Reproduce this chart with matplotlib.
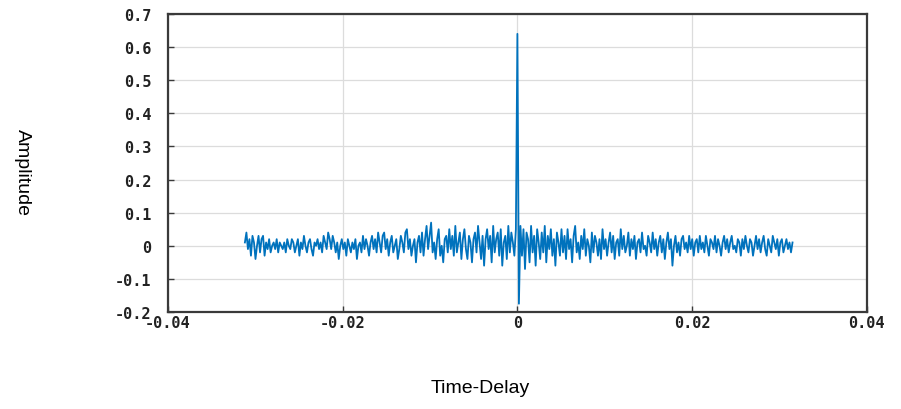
import numpy as np
import matplotlib.pyplot as plt

# cross-correlation values (in units of 0.01)
left_noise = [
    1, 4, -1, 2, -3, 3, 1, -4, 0, 3, -2, 2, 3, -3, 1, -1, 2, -2, 0, 1, -1, 2, -2, 1, 0, -1, 1, -2, 2, 0,
    -1, 2, 1, -2, 0, 2, -3, 1, -1, 3, 0, -2, 1, 2, -1, -3, 1, 0, 2, -1, 1, -2, 3, 1, -1, 4, 2, -1, 3, 1,
    -2, 1, -4, 0, 2, -1, 1, -3, 2, 0, -2, 1, -1, 2, -4, 0, 1, -2, 3, -1, 2, 0, -3, 1, 3, -1, 2, -2, 4, 1,
    -2, 3, 4, -1, 2, -3, 1, 3, -2, 0, 2, -4, -1, 3, 1, -2, 4, 5, -1, 2, -3, 0, 2, -5, 1, 3, -2, 4, -3, 2,
    6, -1, 3, 7, -2, 1, -4, 2, 5, -3, 0, -5, 2, 3, -2, 5, -1, 3, -3, 6, -2, 1, 4, -4, 2, 5, -1, -4, 3, 1,
    -5, 2, 4, -2, 6, 1, -4, 3, -6, 2, 5, -1, 3, -5, 6, -2, 2, 4, -3, 5, -6, 1, 3, -4, 6, -2, 4, 1, -3, 5,
]
peak = [64, -17.5]
right_noise = [
    6, -3, 5, -7, 4, 2, -5, 6, -2, 3, -6, 5, 1, -4, 4, -2, 6, -5, 3, -1, 5, -3, 2, -6, 4, 1, -3, 5, -2, 3,
    -4, 5, -1, 2, -5, 3, 6, -2, 1, -4, 3, -1, 5, -3, 2, 0, -5, 4, -2, 3, 1, -3, 2, -4, 5, -1, 2, -3, 1, 4,
    -2, 3, -4, 1, 2, -3, 5, -1, 3, -2, 0, 4, -3, 2, -1, 3, -4, 1, 2, -2, 4, -1, 0, -3, 3, 1, -2, 4, -1, 2,
    -3, 1, 3, -2, 2, -4, 1, 4, -1, 2, -6, 0, 3, -2, 1, -3, 2, 3, -1, 1, -2, 3, -1, 2, -3, 1, 2, -2, 3, -1,
    1, -2, 3, 0, -3, 2, 1, -1, 3, -2, 2, 0, -3, 1, 3, -1, 2, -2, 1, 3, -1, 0, -2, 2, 1, -3, 2, -1, 3, 0,
    -2, 2, 1, -3, 0, 3, -1, 2, -2, 1, 3, -1, -3, 2, 0, -2, 3, 1, -1, 2, -3, 1, 2, -2, 0, 2, -1, 1, -2, 1,
]
lag_start, lag_end = -0.0312, 0.0315

x_ticks = [-0.04, -0.02, 0, 0.02, 0.04]
x_tick_labels = ["-0.04", "-0.02", "0", "0.02", "0.04"]
y_ticks = [-0.2, -0.1, 0, 0.1, 0.2, 0.3, 0.4, 0.5, 0.6, 0.7]
y_tick_labels = ["-0.2", "-0.1", "0", "0.1", "0.2", "0.3", "0.4", "0.5", "0.6", "0.7"]

amplitude = np.array(left_noise + peak + right_noise) * 0.01
n_left = len(left_noise)
lags = np.concatenate([
    np.linspace(lag_start, 0, n_left + 1),
    np.linspace(0, lag_end, len(right_noise) + 2)[1:],
])

fig = plt.figure(figsize=(9.01, 4.10), dpi=100)
ax = fig.add_axes([0.1865, 0.2366, 0.7755, 0.7268])

ax.plot(lags, amplitude, color="#0072BD", linewidth=1.3)

ax.set_xlim(-0.04, 0.04)
ax.set_ylim(-0.2, 0.7)
ax.set_xticks(x_ticks)
ax.set_xticklabels(x_tick_labels)
ax.set_yticks(y_ticks)
ax.set_yticklabels(y_tick_labels)
ax.grid(True, color="#dcdcdc", linewidth=0.9)
ax.set_axisbelow(True)

for spine in ax.spines.values():
    spine.set_color("#3a3a3a")
    spine.set_linewidth(1.6)
ax.tick_params(direction="in", length=4, width=1, color="#3a3a3a",
               labelsize=11, labelcolor="#222222")
ax.tick_params(axis="y", pad=12)
ax.tick_params(axis="x", pad=2)
for label in ax.get_xticklabels() + ax.get_yticklabels():
    label.set_fontweight("bold")
    label.set_fontfamily("DejaVu Sans Mono")

fig.text(0.0245, 0.58, "Amplitude", rotation=-90, ha="center", va="center",
         fontsize=14, family="Liberation Sans")
fig.text(0.533, 0.052, "Time-Delay", ha="center", va="center",
         fontsize=14, family="Liberation Sans")

fig.savefig("out.png", dpi=100)
